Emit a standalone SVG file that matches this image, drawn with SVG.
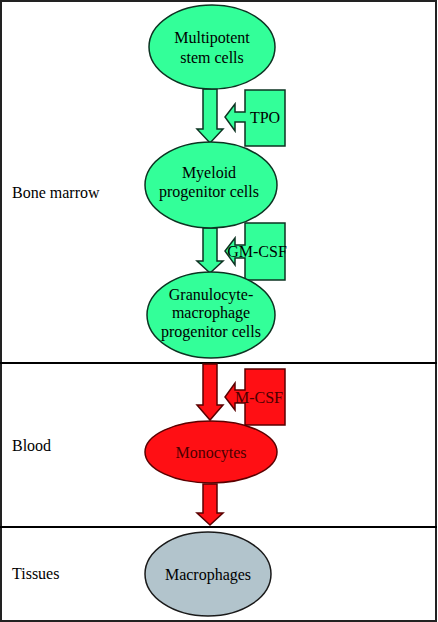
<svg xmlns="http://www.w3.org/2000/svg" width="438" height="622" viewBox="0 0 438 622" font-family="'Liberation Serif', 'DejaVu Serif', serif" font-size="16">
<style>
text{font-family:"Liberation Serif","DejaVu Serif",serif;font-size:16px;fill:#000}
.lbl{text-anchor:start}
.c{text-anchor:middle}
.g{fill:#33ff99;stroke:#0d3322;stroke-width:1.5}
.r{fill:#ff0f14;stroke:#5a0000;stroke-width:1.5}
.gy{fill:#b2c4cc;stroke:#1a1a1a;stroke-width:1.5}
.rt{fill:#4a0000}
</style>
<rect x="0" y="0" width="438" height="622" fill="#fff"/>
<g id="frame">
<rect x="1" y="1" width="435" height="620" fill="none" stroke="#222" stroke-width="2"/>
<line x1="0" y1="363" x2="437" y2="363" stroke="#000" stroke-width="2"/>
<line x1="0" y1="527" x2="437" y2="527" stroke="#000" stroke-width="2"/>
</g>
<g id="labels">
<text class="lbl" x="12" y="198">Bone marrow</text>
<text class="lbl" x="12" y="451">Blood</text>
<text class="lbl" x="12" y="579">Tissues</text>
</g>
<g id="connectors">
<polygon class="g" points="203,89 217,89 217,129 223,129 210,143 197,129 203,129"/>
<polygon class="g" points="203,228 217,228 217,261 223,261 210,273 197,261 203,261"/>
<polygon class="r" points="203,364 217,364 217,405 223,405 210,420 197,405 203,405"/>
<polygon class="r" points="203,484 217,484 217,513 223,513 210,525 197,513 203,513"/>
</g>
<g id="tpo">
<polygon class="g" points="245,90 285,90 285,146 245,146 245,122 235,122 235,131 225,117 235,104 235,112 245,112"/>
<text class="c" x="265" y="123">TPO</text>
</g>
<g id="gmcsf">
<polygon class="g" points="245,223 285,223 285,280 245,280 245,258 235,258 235,265 225,251 235,238 235,245 245,245"/>
<text class="c" x="257" y="257">GM-CSF</text>
</g>
<g id="mcsf">
<polygon class="r" points="245,369 285,369 285,425 245,425 245,403 235,403 235,410 225,397 235,383 235,390 245,390"/>
<text class="c rt" x="259" y="403">M-CSF</text>
</g>
<g id="stem">
<ellipse class="g" cx="212" cy="47" rx="63" ry="42"/>
<text class="c" x="212" y="43">Multipotent</text>
<text class="c" x="212" y="63">stem cells</text>
</g>
<g id="myeloid">
<ellipse class="g" cx="211" cy="185" rx="66" ry="43"/>
<text class="c" x="209" y="178">Myeloid</text>
<text class="c" x="209" y="197">progenitor cells</text>
</g>
<g id="gmp">
<ellipse class="g" cx="211" cy="315" rx="64" ry="43"/>
<text class="c" x="211" y="300">Granulocyte-</text>
<text class="c" x="211" y="318">macrophage</text>
<text class="c" x="211" y="337">progenitor cells</text>
</g>
<g id="monocytes">
<ellipse class="r" cx="211" cy="452" rx="66" ry="31"/>
<text class="c rt" x="211" y="458">Monocytes</text>
</g>
<g id="macrophages">
<ellipse class="gy" cx="208" cy="574" rx="63" ry="42"/>
<text class="c" x="208" y="580">Macrophages</text>
</g>
</svg>
